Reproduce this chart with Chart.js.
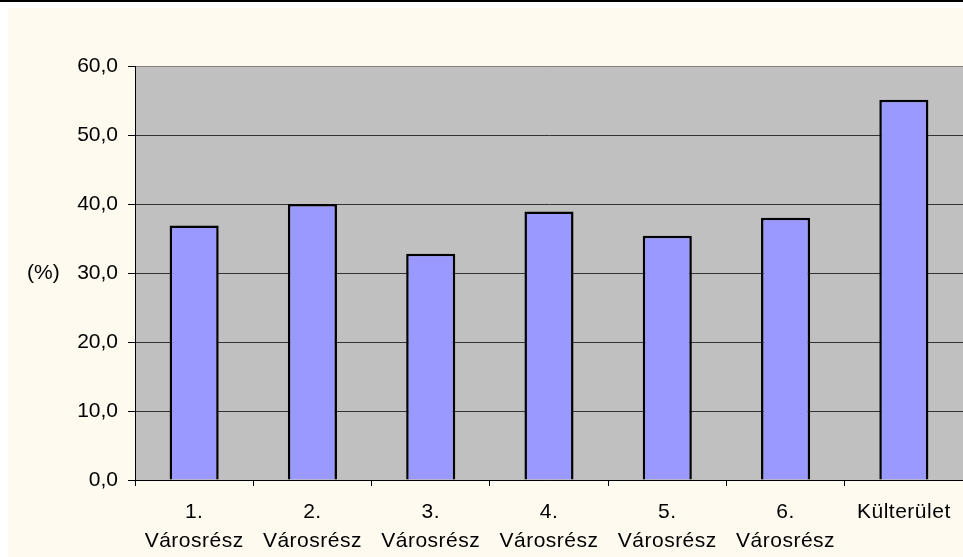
<!DOCTYPE html>
<html>
<head>
<meta charset="utf-8">
<script src="https://cdn.jsdelivr.net/npm/chart.js@4/dist/chart.umd.min.js"></script>
<style>
html,body{margin:0;padding:0;background:#fff;}
canvas{display:block;}
</style>
</head>
<body>
<canvas id="c" width="963" height="557"></canvas>
<script>
const categories = [["1.", "Városrész"], ["2.", "Városrész"], ["3.", "Városrész"], ["4.", "Városrész"], ["5.", "Városrész"], ["6.", "Városrész"], "Külterület"];
const values = [36.9, 40.0, 32.8, 38.9, 35.4, 38.0, 55.1];
const yTickLabels = ["0,0", "10,0", "20,0", "30,0", "40,0", "50,0", "60,0"];
const yAxisTitle = "(%)";

const FONT = "'Liberation Sans', Arial, sans-serif";

const bgPlugin = {
  id: 'bg',
  beforeDraw(chart) {
    const ctx = chart.ctx;
    const W = chart.width, H = chart.height;
    ctx.save();
    ctx.fillStyle = '#ffffff';
    ctx.fillRect(0, 0, W, H);
    ctx.fillStyle = '#fffaf0';
    ctx.fillRect(8, 8, W - 8, H - 8);
    ctx.fillStyle = '#000000';
    ctx.fillRect(0, 0, W, 2);
    const a = chart.chartArea;
    ctx.fillStyle = '#c0c0c0';
    ctx.fillRect(a.left, a.top, a.right - a.left, a.bottom - a.top);
    ctx.restore();
    const xs = chart.scales.x;
    if (xs && !xs._lsPatched) {
      const orig = xs.drawLabels;
      xs.drawLabels = function (area) {
        const c = this.ctx;
        const prev = c.letterSpacing;
        c.letterSpacing = '0.5px';
        orig.call(this, area);
        c.letterSpacing = prev || '0px';
      };
      xs._lsPatched = true;
    }
  },
  afterDraw(chart) {
    const ctx = chart.ctx;
    const a = chart.chartArea;
    ctx.save();
    ctx.font = '21px ' + FONT;
    ctx.fillStyle = '#000';
    ctx.textAlign = 'left';
    ctx.textBaseline = 'middle';
    ctx.fillText(yAxisTitle, 27, (a.top + a.bottom) / 2);
    ctx.restore();
  }
};

new Chart(document.getElementById('c'), {
  type: 'bar',
  data: {
    labels: categories,
    datasets: [{
      data: values,
      backgroundColor: '#9999ff',
      borderColor: '#000000',
      borderWidth: 2.5,
      borderSkipped: 'bottom',
      barPercentage: 0.415,
      categoryPercentage: 1.0
    }]
  },
  options: {
    responsive: false,
    animation: false,
    devicePixelRatio: 1,
    layout: { padding: { top: 66, left: 0, right: 0, bottom: 0 } },
    plugins: { legend: { display: false }, tooltip: { enabled: false } },
    scales: {
      x: {
        offset: true,
        grid: {
          offset: true,
          drawOnChartArea: false,
          drawTicks: true,
          tickLength: 6,
          tickColor: '#000',
          color: '#000'
        },
        border: { display: true, color: '#000', width: 1, z: 1 },
        ticks: {
          color: '#000',
          font: { family: FONT, size: 21, lineHeight: '29px' },
          padding: 12,
          maxRotation: 0,
          autoSkip: false
        },
        afterFit(scale) { scale.height = 77; }
      },
      y: {
        min: 0,
        max: 60,
        ticks: {
          stepSize: 10,
          color: '#000',
          font: { family: FONT, size: 21 },
          padding: 10,
          callback: (v, i) => yTickLabels[i]
        },
        grid: {
          color: (ctx) => (ctx.index === 6 ? '#808080' : (ctx.index === 0 ? '#000' : '#333333')),
          tickColor: '#000',
          tickLength: 7,
          lineWidth: 1
        },
        border: { display: true, color: '#000', width: 1 },
        afterFit(scale) { scale.width = 135; }
      }
    }
  },
  plugins: [bgPlugin]
});
</script>
</body>
</html>
